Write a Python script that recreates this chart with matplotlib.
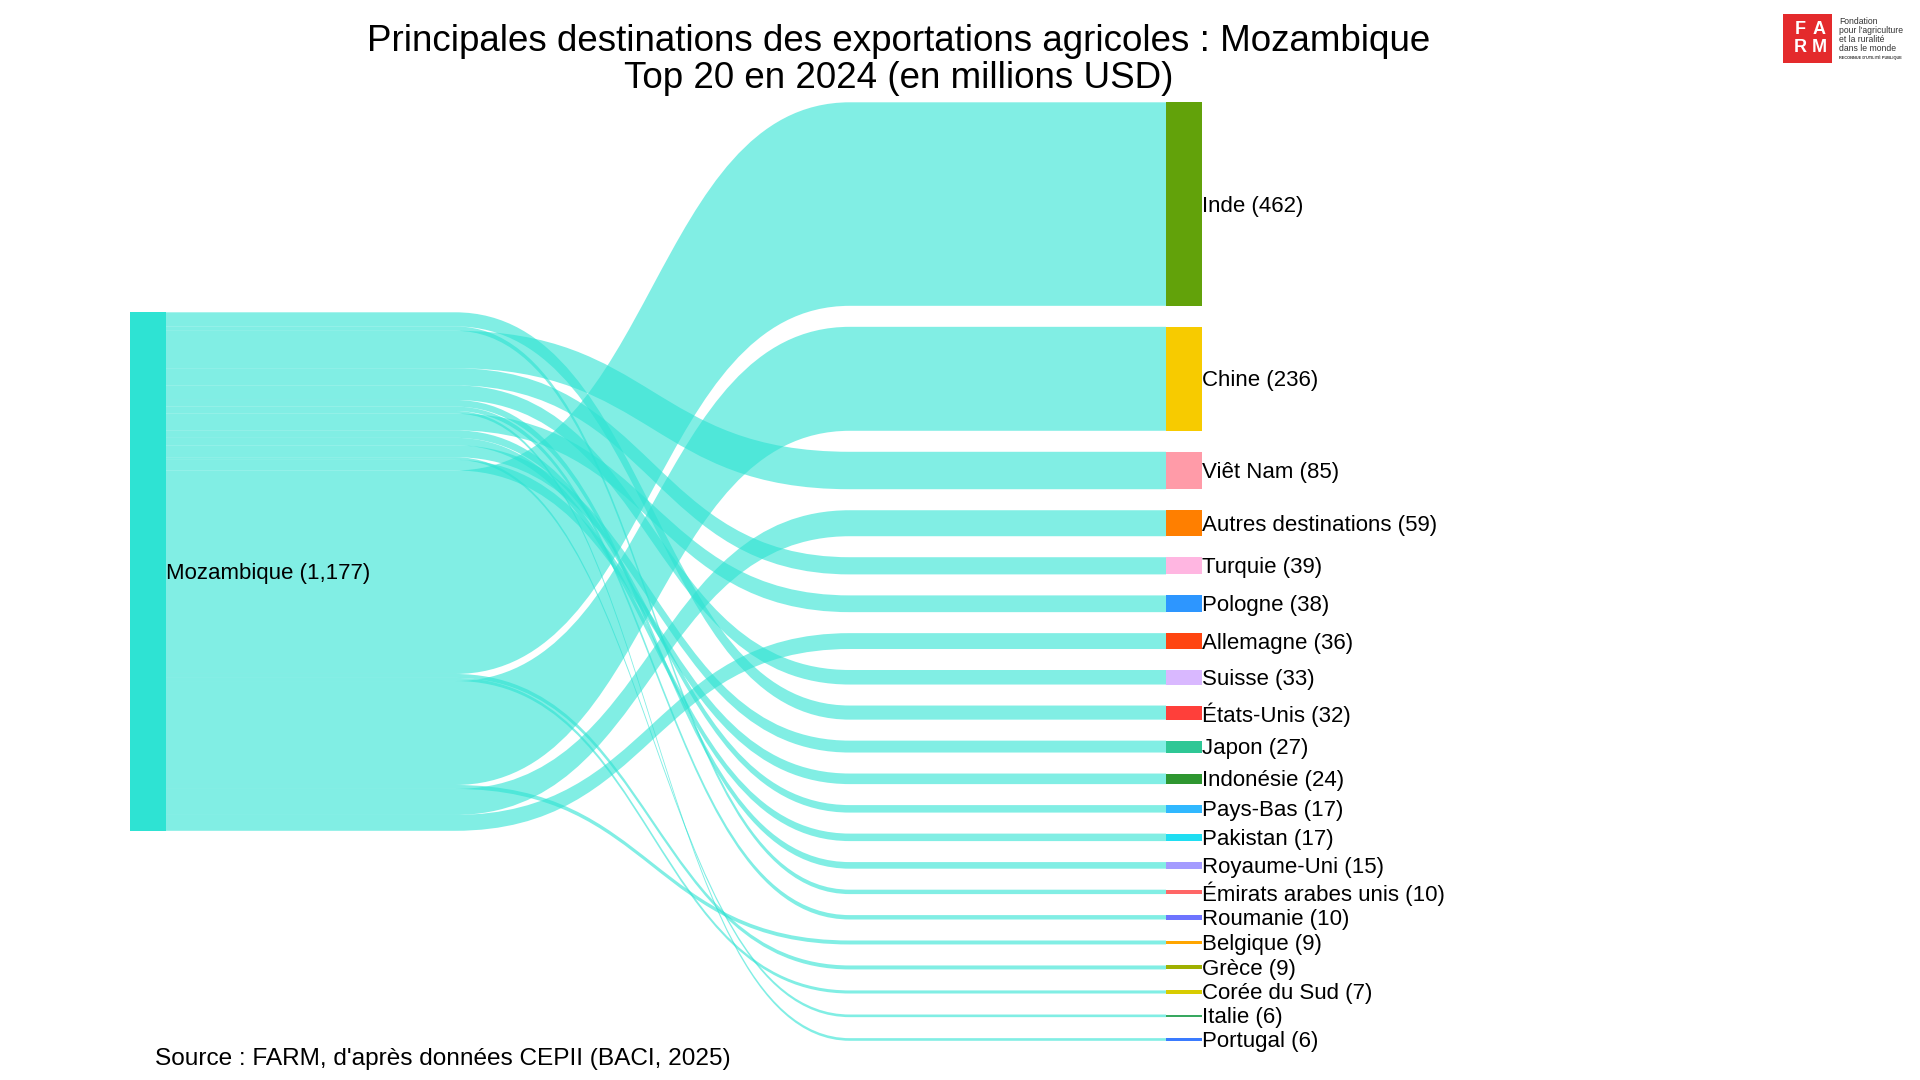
import matplotlib.pyplot as plt
from matplotlib.path import Path
from matplotlib.patches import PathPatch, Rectangle

plt.rcParams['font.family'] = ['Liberation Sans', 'DejaVu Sans']

# --- data -------------------------------------------------------------
source_name = 'Mozambique'
destinations = ['Inde', 'Chine', 'Viêt Nam', 'Autres destinations', 'Turquie',
                'Pologne', 'Allemagne', 'Suisse', 'États-Unis', 'Japon',
                'Indonésie', 'Pays-Bas', 'Pakistan', 'Royaume-Uni',
                'Émirats arabes unis', 'Roumanie', 'Belgique', 'Grèce',
                'Corée du Sud', 'Italie', 'Portugal']
values = [462, 236, 85, 59, 39, 38, 36, 33, 32, 27, 24, 17, 17, 15, 10, 10, 9, 9, 7, 6, 6]

title_lines = ['Principales destinations des exportations agricoles : Mozambique',
               'Top 20 en 2024 (en millions USD)']
source_note = "Source : FARM, d'après données CEPII (BACI, 2025)"

# --- styles -----------------------------------------------------------
node_colors = ['#62A20A', '#F7CB00', '#FF9BA8', '#FF7F00', '#FFB6E1',
               '#2D96FF', '#FF4510', '#D9B8FF', '#FF3F3A', '#2FC795',
               '#2E9630', '#30B8FF', '#1FDEF2', '#A49BFF', '#FF6666',
               '#6E74FF', '#FFA500', '#9FB000', '#D8CC00', '#38A860', '#3A7BFF']
src_color = '#2EE3D3'
link_alpha = 0.6
logo_red = '#E42A2C'

W, H = 1920, 1080
fig = plt.figure(figsize=(19.2, 10.8), dpi=100)
ax = fig.add_axes([0, 0, 1, 1])
ax.set_xlim(0, W)
ax.set_ylim(H, 0)
ax.axis('off')

# --- sankey layout ----------------------------------------------------
top, bottom, pad = 102.3, 1040.8, 21
node_w = 36
x_src, x_dst = 130, 1166
xa, xb = 455, 850           # links bend between these x
xm = (xa + xb) / 2
label_dy = 2                # centre caps, not the whole text box

total = sum(values)
ky = (bottom - top - pad * (len(values) - 1)) / total

dst_pos = {}
y = top
for name, v in zip(destinations, values):
    dst_pos[name] = (y, v * ky)
    y += v * ky + pad

src_top = (top + bottom) / 2 - total * ky / 2

# links leave the source in reverse name order
val_of = dict(zip(destinations, values))
ys = src_top
for name in sorted(destinations, reverse=True):
    h = val_of[name] * ky
    s0, s1 = ys, ys + h
    t0 = dst_pos[name][0]
    t1 = t0 + h
    x0 = x_src + node_w
    verts = [(x0, s0), (xa, s0), (xm, s0), (xm, t0), (xb, t0), (x_dst, t0),
             (x_dst, t1), (xb, t1), (xm, t1), (xm, s1), (xa, s1), (x0, s1), (x0, s0)]
    codes = [Path.MOVETO, Path.LINETO, Path.CURVE4, Path.CURVE4, Path.CURVE4, Path.LINETO,
             Path.LINETO, Path.LINETO, Path.CURVE4, Path.CURVE4, Path.CURVE4, Path.LINETO,
             Path.CLOSEPOLY]
    ax.add_patch(PathPatch(Path(verts, codes), facecolor=src_color, alpha=link_alpha,
                           edgecolor='none', zorder=1))
    ys = s1

# nodes
ax.add_patch(Rectangle((x_src, src_top), node_w, total * ky, facecolor=src_color,
                       edgecolor='none', zorder=2))
ax.text(x_src + node_w, src_top + total * ky / 2 + label_dy, f'{source_name} ({total:,})',
        fontsize=16, va='center', ha='left', zorder=3)

for name, v, c in zip(destinations, values, node_colors):
    y0, h = dst_pos[name]
    ax.add_patch(Rectangle((x_dst, y0), node_w, max(h, 2.5), facecolor=c,
                           edgecolor='none', zorder=2))
    ax.text(x_dst + node_w + 0.5, y0 + h / 2 + label_dy, f'{name} ({v})', fontsize=16,
            va='center', ha='left', zorder=3)

# --- titles and notes -------------------------------------------------
ax.text(899, 41.5, title_lines[0], fontsize=26.5, ha='center', va='center')
ax.text(899, 78.5, title_lines[1], fontsize=26.5, ha='center', va='center')
ax.text(155, 1059, source_note, fontsize=17.6, ha='left', va='center')

# FARM logo
ax.add_patch(Rectangle((1783, 14), 49, 49, facecolor=logo_red, edgecolor='none'))
for txt, lx, ly in [('F', 1800, 30), ('A', 1819, 30), ('R', 1800, 48), ('M', 1819, 48)]:
    ax.text(lx, ly, txt, color='white', fontsize=13, fontweight='bold',
            ha='center', va='center')
for i, line in enumerate(['Fondation', "pour l'agriculture", 'et la ruralité', 'dans le monde']):
    ax.text(1839, 21.7 + 9 * i, line, fontsize=6.2, ha='left', va='center', color='#333333')
ax.text(1839, 57.3, "RECONNUE D'UTILITÉ PUBLIQUE", fontsize=2.8, fontweight='bold',
        ha='left', va='center', color='#333333')

fig.savefig('out.png', dpi=100)
